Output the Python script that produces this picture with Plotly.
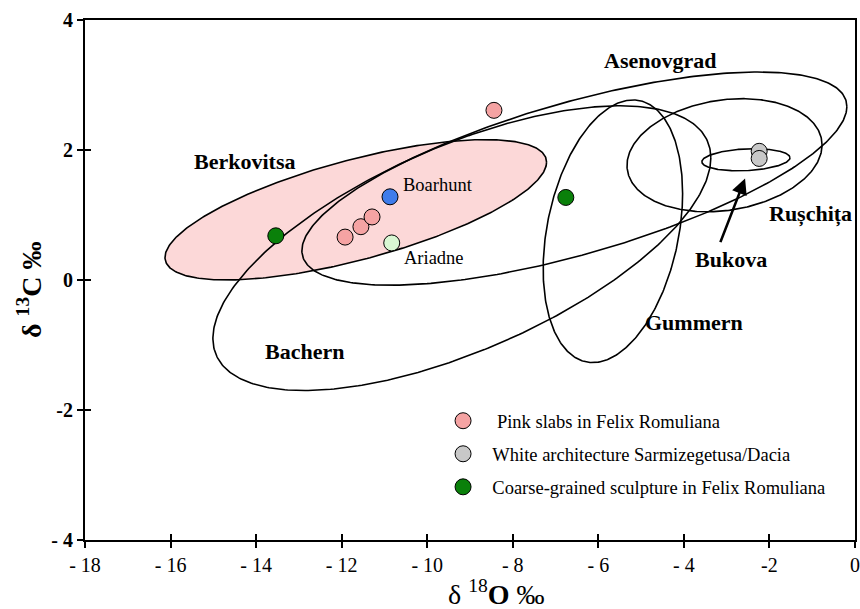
import numpy as np
import plotly.graph_objects as go

# ---------------- data ----------------
# reference fields (confidence ellipses): centre, half-width (x), half-height (y), correlation
field_names = ["Berkovitsa", "Bachern", "Asenovgrad", "Gummern", "Rușchița", "Bukova"]
field_cx = [-11.67, -9.19, -6.56, -5.66, -3.05, -2.55]
field_cy = [1.08, 0.49, 1.56, 0.75, 1.92, 1.85]
field_rx = [4.46, 5.82, 6.37, 1.63, 2.28, 1.03]
field_ry = [1.08, 2.19, 1.64, 2.02, 0.87, 0.17]
field_rho = [0.678, 0.634, 0.675, 0.288, 0.18, 0.18]

# sample groups
pink_x = [-8.44, -11.92, -11.55, -11.29]
pink_y = [2.61, 0.66, 0.82, 0.97]
grey_x = [-2.24, -2.24]
grey_y = [1.98, 1.87]
green_x = [-13.54, -6.76]
green_y = [0.68, 1.27]
boarhunt_x = [-10.87]
boarhunt_y = [1.28]
ariadne_x = [-10.83]
ariadne_y = [0.57]

legend_names = ["Pink slabs in Felix Romuliana",
                "White architecture Sarmizegetusa/Dacia",
                "Coarse-grained sculpture in Felix Romuliana"]

x_tickvals = [-18, -16, -14, -12, -10, -8, -6, -4, -2, 0]
x_ticktext = ["- 18", "- 16", "- 14", "- 12", "- 10", "- 8", "- 6", "- 4", "-2", "0"]
y_tickvals = [-4, -2, 0, 2, 4]
y_ticktext = ["- 4", "-2", "0", "2", "4"]

# field label positions
label_text = ["Berkovitsa", "Asenovgrad", "Bachern", "Gummern", "Rușchița", "Bukova"]
label_x = [-14.26, -4.56, -12.86, -3.76, -1.05, -2.90]
label_y = [1.82, 3.37, -1.10, -0.66, 1.02, 0.31]

# ---------------- figure ----------------
SERIF = "Liberation Serif, Times New Roman, serif"
NB = "\u00a0\u00a0\u00a0"
fig = go.Figure()

t = np.linspace(0, 2 * np.pi, 400)
for i, name in enumerate(field_names):
    ex = field_cx[i] + field_rx[i] * np.cos(t)
    ey = field_cy[i] + field_ry[i] * (field_rho[i] * np.cos(t) + np.sqrt(1 - field_rho[i] ** 2) * np.sin(t))
    filled = name == "Berkovitsa"
    fig.add_trace(go.Scatter(
        x=ex, y=ey, mode="lines",
        line=dict(color="black", width=1.6),
        fill="toself" if filled else None,
        fillcolor="rgba(252,214,214,0.95)" if filled else None,
        showlegend=False, hoverinfo="skip"))

mk_line = dict(color="black", width=1)
fig.add_trace(go.Scatter(x=pink_x, y=pink_y, mode="markers", name=NB + legend_names[0],
                         legendgroup="a",
                         marker=dict(size=16, color="#F5A3A3", line=mk_line)))
fig.add_trace(go.Scatter(x=grey_x, y=grey_y, mode="markers", name=NB[:2] + legend_names[1],
                         legendgroup="b",
                         marker=dict(size=16, color="#C8C8C8", line=mk_line)))
fig.add_trace(go.Scatter(x=green_x, y=green_y, mode="markers", name=NB[:2] + legend_names[2],
                         legendgroup="c",
                         marker=dict(size=16, color="#0A800A", line=mk_line)))
fig.add_trace(go.Scatter(x=boarhunt_x, y=boarhunt_y, mode="markers", showlegend=False,
                         marker=dict(size=16, color="#3F7CEB", line=mk_line)))
fig.add_trace(go.Scatter(x=ariadne_x, y=ariadne_y, mode="markers", showlegend=False,
                         marker=dict(size=16, color="#D9F7D3", line=mk_line)))

# overlay axes to give ticks that cross the frame
fig.add_trace(go.Scatter(x=[], y=[], xaxis="x2", yaxis="y2", showlegend=False, hoverinfo="skip"))

for txt, lx, ly in zip(label_text, label_x, label_y):
    fig.add_annotation(x=lx, y=ly, text="<b>%s</b>" % txt, showarrow=False,
                       font=dict(family=SERIF, size=22, color="black"))

fig.add_annotation(x=boarhunt_x[0], y=boarhunt_y[0], text="Boarhunt", showarrow=False,
                   xanchor="left", xshift=11, yshift=12,
                   font=dict(family=SERIF, size=18.5, color="black"))
fig.add_annotation(x=ariadne_x[0], y=ariadne_y[0], text="Ariadne", showarrow=False,
                   xanchor="left", xshift=10, yshift=-15,
                   font=dict(family=SERIF, size=18.5, color="black"))

# Bukova arrow
fig.add_annotation(x=field_cx[5] - 0.02, y=field_cy[5] - field_ry[5] - 0.12,
                   ax=-3.16, ay=0.56, xref="x", yref="y", axref="x", ayref="y",
                   text="", showarrow=True, arrowhead=2, arrowsize=1.2,
                   arrowwidth=2.6, arrowcolor="black")

# axis titles
fig.add_annotation(xref="paper", yref="paper", x=0.535, y=-0.1, yanchor="middle",
                   text="δ <sup>18</sup><b>O</b> ‰", showarrow=False,
                   font=dict(family=SERIF, size=28, color="black"))
fig.add_annotation(xref="paper", yref="paper", x=-0.072, y=0.48, xanchor="center",
                   textangle=-90, text="<b>δ <sup>13</sup>C ‰</b>", showarrow=False,
                   font=dict(family=SERIF, size=28, color="black"))

fig.update_layout(
    width=860, height=609,
    margin=dict(l=85, r=5, t=20, b=69),
    paper_bgcolor="white", plot_bgcolor="white",
    font=dict(family=SERIF, color="black"),
    xaxis=dict(range=[-18, 0], tickvals=x_tickvals, ticktext=x_ticktext, automargin=False,
               ticks="outside", ticklen=6, tickwidth=1.5, tickcolor="black",
               showline=True, linewidth=2, linecolor="black", mirror=True,
               showgrid=False, zeroline=False,
               tickfont=dict(family=SERIF, size=20)),
    yaxis=dict(range=[-4, 4], tickvals=y_tickvals, ticktext=["<b>%s</b>" % s for s in y_ticktext],
               automargin=False,
               ticks="outside", ticklen=6, tickwidth=1.5, tickcolor="black",
               showline=True, linewidth=2, linecolor="black", mirror=True,
               showgrid=False, zeroline=False,
               tickfont=dict(family=SERIF, size=20)),
    xaxis2=dict(overlaying="x", matches="x", anchor="y2", side="bottom", tickvals=x_tickvals,
                automargin=False,
                ticks="inside", ticklen=6, tickwidth=1.5, tickcolor="black",
                showticklabels=False, showline=False, showgrid=False, zeroline=False),
    yaxis2=dict(overlaying="y", matches="y", anchor="x2", side="left", tickvals=y_tickvals,
                automargin=False,
                ticks="inside", ticklen=6, tickwidth=1.5, tickcolor="black",
                showticklabels=False, showline=False, showgrid=False, zeroline=False),
    legend=dict(x=0.465, y=0.265, xanchor="left", yanchor="top",
                bgcolor="rgba(0,0,0,0)", font=dict(family=SERIF, size=18.5),
                tracegroupgap=6, itemwidth=30),
    showlegend=True,
)

fig.write_html("out.html", config={"displayModeBar": False},
               post_script="document.body.style.margin='0px';document.body.style.overflow='hidden';")
